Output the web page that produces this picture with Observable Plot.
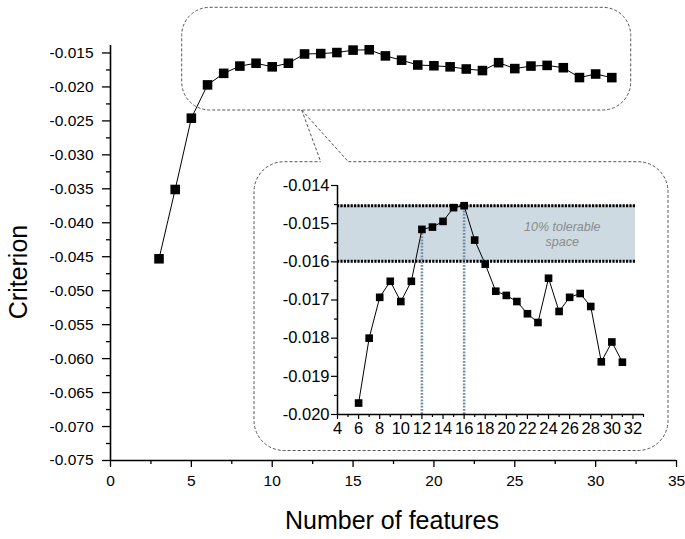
<!DOCTYPE html>
<html><head><meta charset="utf-8">
<script src="https://cdn.jsdelivr.net/npm/d3@7"></script>
<script src="https://cdn.jsdelivr.net/npm/@observablehq/plot@0.6"></script>
<style>
body{margin:0;background:#fff;}
#wrap{position:relative;width:685px;height:539px;font-family:Arial,"Liberation Sans",sans-serif;}
#wrap > svg{position:absolute;}
</style></head><body><div id="wrap"></div>
<script>
// ---- data ----
const features = [3,4,5,6,7,8,9,10,11,12,13,14,15,16,17,18,19,20,21,22,23,24,25,26,27,28,29,30,31];
const criterion = [-0.0453,-0.0351,-0.0246,-0.0197,-0.0180,-0.01693,-0.01651,-0.01704,-0.01651,-0.01515,-0.01509,-0.01494,-0.01458,-0.01453,-0.01543,-0.01606,-0.01677,-0.01688,-0.01704,-0.01736,-0.01759,-0.01643,-0.01730,-0.01693,-0.01683,-0.01717,-0.01862,-0.01810,-0.01863];
const mainXTicks = [0,5,10,15,20,25,30,35];
const mainYTicks = [-0.075,-0.070,-0.065,-0.060,-0.055,-0.050,-0.045,-0.040,-0.035,-0.030,-0.025,-0.020,-0.015];
const insetXTicks = [4,6,8,10,12,14,16,18,20,22,24,26,28,30,32];
const insetYTicks = [-0.020,-0.019,-0.018,-0.017,-0.016,-0.015,-0.014];
const insetFrom = 6;
const selected = [12, 16];
const tolerance = 0.10;
const bandLabel = "10% tolerable\nspace";
const xTitle = "Number of features";
const yTitle = "Criterion";

// ---- derived ----
const data = features.map((f, i) => ({f, c: criterion[i]}));
const insetData = data.filter(d => d.f >= insetFrom);
const best = d3.max(insetData, d => d.c);
const bandLow = best * (1 + tolerance);
const guides = insetData.filter(d => selected.includes(d.f));
const mid = a => a.slice(1).map((v, i) => (v + a[i]) / 2);
const font = 'Arial, "Liberation Sans", sans-serif';

const wrap = document.getElementById("wrap");

const main = Plot.plot({
  width: 685, height: 539,
  marginLeft: 110, marginRight: 9, marginTop: 45, marginBottom: 79,
  style: {fontFamily: font, fontSize: "15.5px", color: "#000", background: "transparent"},
  x: {domain: [0, 35], label: null},
  y: {domain: [-0.075, -0.0139], label: null},
  marks: [
    Plot.axisX(mainXTicks, {tickSize: 7, tickPadding: 7, strokeWidth: 1.3, tickFormat: d => String(d), label: null}),
    Plot.axisX(mid(mainXTicks), {tickSize: 4, strokeWidth: 1.3, tickFormat: () => "", label: null}),
    Plot.axisY(mainYTicks, {tickSize: 8, tickPadding: 9, strokeWidth: 1.3, tickFormat: d => d.toFixed(3), label: null}),
    Plot.axisY(mid(mainYTicks), {tickSize: 4, strokeWidth: 1.3, tickFormat: () => "", label: null}),
    Plot.ruleX([0], {stroke: "#000", strokeWidth: 1.6}),
    Plot.ruleY([-0.075], {stroke: "#000", strokeWidth: 1.6}),
    Plot.line(data, {x: "f", y: "c", stroke: "#000", strokeWidth: 1}),
    Plot.dot(data, {x: "f", y: "c", symbol: "square", r: 5.4, fill: "#000", stroke: null})
  ]
});
main.style.left = "0px"; main.style.top = "0px";
wrap.appendChild(main);

// axis titles
const ms = d3.select(main);
ms.append("text").attr("x", 392).attr("y", 529).attr("text-anchor", "middle")
  .attr("font-size", 25).attr("font-family", font).attr("fill", "#000").text(xTitle);
ms.append("text").attr("transform", "translate(27,272) rotate(-90)").attr("text-anchor", "middle")
  .attr("font-size", 25).attr("font-family", font).attr("fill", "#000").text(yTitle);

const inset = Plot.plot({
  width: 415, height: 286,
  marginLeft: 82, marginRight: 27, marginTop: 20, marginBottom: 37,
  style: {fontFamily: font, fontSize: "16.5px", color: "#000", background: "transparent"},
  x: {domain: [4, 33], label: null},
  y: {domain: [-0.020, -0.014], label: null},
  marks: [
    Plot.rect([{x1: 4, x2: 32.25, y1: bandLow, y2: best}], {x1: "x1", x2: "x2", y1: "y1", y2: "y2", fill: "#cedae2"}),
    Plot.ruleY([best, bandLow], {x1: 4, x2: 32.25, stroke: "#000", strokeWidth: 3, strokeDasharray: "2.2 1.2"}),
    Plot.ruleX(guides, {x: "f", y1: -0.020, y2: "c", stroke: "#6f8ca6", strokeWidth: 2.6, strokeDasharray: "1.8 1.4"}),
    Plot.text([bandLabel], {x: 25.3, y: (best + bandLow) / 2, fontStyle: "italic", fill: "#8a8a8a", fontSize: 12.5, lineHeight: 1.25}),
    Plot.axisX(insetXTicks, {tickSize: 5, tickPadding: 3, strokeWidth: 1.2, tickFormat: d => String(d), label: null}),
    Plot.axisX([...mid(insetXTicks), 33], {tickSize: 3, strokeWidth: 1.2, tickFormat: () => "", label: null}),
    Plot.axisY(insetYTicks, {tickSize: 6, tickPadding: 2, strokeWidth: 1.2, tickFormat: d => d.toFixed(3), label: null}),
    Plot.axisY(mid(insetYTicks), {tickSize: 3, strokeWidth: 1.2, tickFormat: () => "", label: null}),
    Plot.ruleX([4], {stroke: "#000", strokeWidth: 1.5}),
    Plot.ruleY([-0.020], {stroke: "#000", strokeWidth: 1.5}),
    Plot.line(insetData, {x: "f", y: "c", stroke: "#000", strokeWidth: 1}),
    Plot.dot(insetData, {x: "f", y: "c", symbol: "square", r: 4.3, fill: "#000", stroke: null})
  ]
});
inset.style.left = "255px"; inset.style.top = "165px";
wrap.appendChild(inset);

// decorative dashed call-out boxes
const ov = d3.select(wrap).append("svg").attr("width", 685).attr("height", 539)
  .style("left", "0px").style("top", "0px").style("pointer-events", "none");
const dash = {stroke: "#555", "stroke-width": 1, "stroke-dasharray": "3 2", fill: "none"};
function applyDash(sel){ for (const k in dash) sel.attr(k, dash[k]); return sel; }
const tb = {L: 181.7, R: 630.7, T: 7.3, B: 110, r: 28};
applyDash(ov.append("rect").attr("x", tb.L).attr("y", tb.T).attr("width", tb.R - tb.L).attr("height", tb.B - tb.T).attr("rx", tb.r).attr("ry", tb.r));
const ib = {L: 254, R: 668, T: 161.7, B: 450.5, r: 30, g1: 320.7, g2: 348.3};
const p = `M${ib.g2},${ib.T}H${ib.R-ib.r}A${ib.r},${ib.r} 0 0 1 ${ib.R},${ib.T+ib.r}V${ib.B-ib.r}A${ib.r},${ib.r} 0 0 1 ${ib.R-ib.r},${ib.B}H${ib.L+ib.r}A${ib.r},${ib.r} 0 0 1 ${ib.L},${ib.B-ib.r}V${ib.T+ib.r}A${ib.r},${ib.r} 0 0 1 ${ib.L+ib.r},${ib.T}H${ib.g1}`;
applyDash(ov.append("path").attr("d", p));
applyDash(ov.append("path").attr("d", `M301.7,${tb.B}L${ib.g1},${ib.T}M301.7,${tb.B}L${ib.g2},${ib.T}`));
</script></body></html>
